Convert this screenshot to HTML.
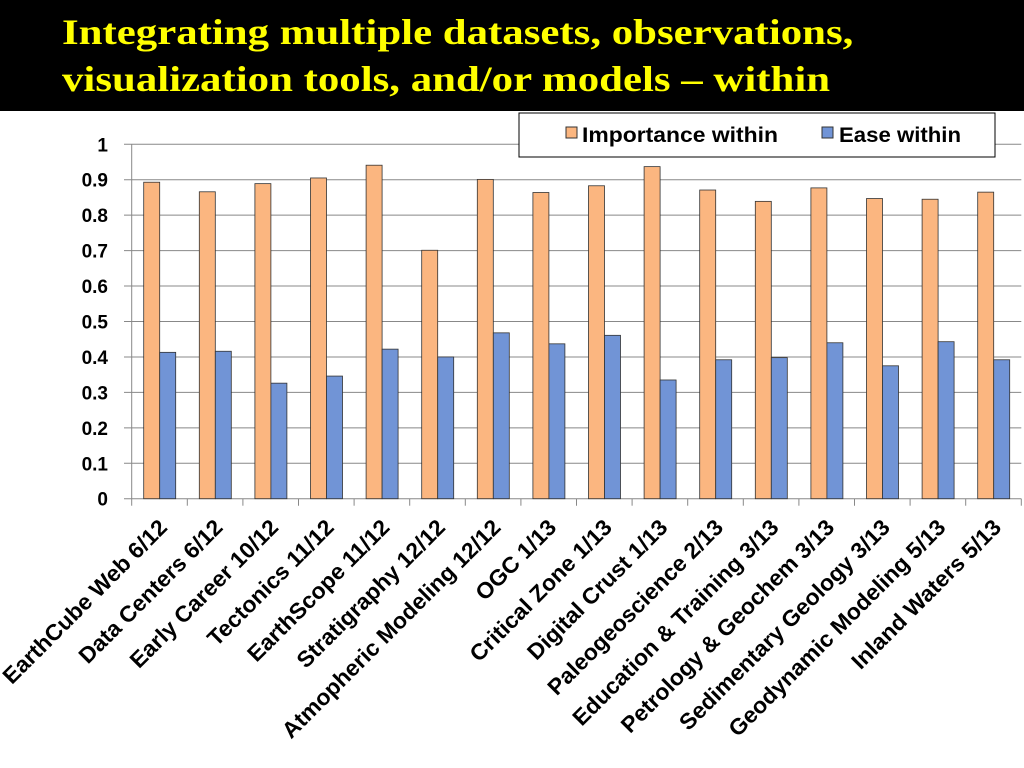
<!DOCTYPE html>
<html><head><meta charset="utf-8"><style>
body{margin:0;width:1024px;height:768px;overflow:hidden;background:#fff;}
#hdr{position:absolute;left:0;top:0;width:1024px;height:111px;background:#000;}
#title{position:absolute;left:62px;top:9px;color:#ffff00;font:bold 36px/47px "Liberation Serif",serif;margin:0;transform:scaleX(1.19);transform-origin:0 0;white-space:nowrap;}
svg{position:absolute;left:0;top:0;}
text{font-family:"Liberation Sans",sans-serif;font-weight:bold;}
</style></head><body>
<div id="hdr"></div>
<h1 id="title">Integrating multiple datasets, observations,<br>visualization tools, and/or models – within</h1>
<svg id="chart" width="1024" height="768"></svg>
<script>
const categories=["EarthCube Web 6/12","Data Centers 6/12","Early Career 10/12","Tectonics 11/12","EarthScope 11/12","Stratigraphy 12/12","Atmopheric Modeling 12/12","OGC 1/13","Critical Zone 1/13","Digital Crust 1/13","Paleogeoscience 2/13","Education & Training 3/13","Petrology & Geochem 3/13","Sedimentary Geology 3/13","Geodynamic Modeling 5/13","Inland Waters 5/13"];
const importance=[0.893,0.866,0.889,0.905,0.941,0.701,0.901,0.864,0.883,0.937,0.871,0.839,0.877,0.847,0.845,0.865];
const ease=[0.413,0.416,0.326,0.346,0.422,0.400,0.468,0.437,0.461,0.335,0.392,0.398,0.440,0.375,0.443,0.392];
const yTicks=[0,0.1,0.2,0.3,0.4,0.5,0.6,0.7,0.8,0.9,1];
const yTickLabels=["0","0.1","0.2","0.3","0.4","0.5","0.6","0.7","0.8","0.9","1"];
const NS="http://www.w3.org/2000/svg";
const svg=document.getElementById('chart');
const X0=131.7,Y0=498.7,Y1=144.3,CW=55.6;
const y=v=>Y0-(Y0-Y1)*v;
const x=i=>X0+i*CW;
function mk(t,a,p){const e=document.createElementNS(NS,t);for(const k in a)e.setAttribute(k,a[k]);(p||svg).appendChild(e);return e;}
yTicks.forEach((v,i)=>{
 const g=mk('line',{x1:124,x2:X0+16*CW,y1:y(v),y2:y(v),stroke:'#888','stroke-width':1});
 
 
 const t=mk('text',{x:108,y:y(v)+7,'text-anchor':'end','font-size':19,fill:'#000'});
 t.textContent=yTickLabels[i];
 
 
});
mk('line',{x1:X0,x2:X0,y1:Y1,y2:Y0,stroke:'#888'});
for(let i=0;i<=16;i++){mk('line',{x1:x(i),x2:x(i),y1:Y0,y2:Y0+7,stroke:'#888'});}
categories.forEach((c,i)=>{
 const b1=mk('rect',{x:x(i)+12,y:y(importance[i]),width:16,height:Y0-y(importance[i]),fill:'#fbb680',stroke:'#333','stroke-width':0.8});
 
 
 const b2=mk('rect',{x:x(i)+28,y:y(ease[i]),width:16,height:Y0-y(ease[i]),fill:'#7194d6',stroke:'#333','stroke-width':0.8});
 
 
 const cx=x(i)+CW/2+9,cy=Y0+30;
 const t=mk('text',{x:cx,y:cy,'text-anchor':'end','font-size':22.5,fill:'#000'});
 t.setAttribute('transform',`translate(${cx} ${cy}) rotate(-45) scale(1.02 1) translate(${-cx} ${-cy})`);
 t.textContent=c;
 
 
});
const lg=mk('g',{});


mk('rect',{x:519,y:113,width:476,height:44,fill:'#fff',stroke:'#000','stroke-width':1},lg);
mk('rect',{x:566,y:127,width:11,height:11,fill:'#fbb680',stroke:'#333'},lg);
const l1=mk('text',{x:582,y:142,'font-size':21,fill:'#000',textLength:196,lengthAdjust:'spacingAndGlyphs'},lg);l1.textContent='Importance within';
mk('rect',{x:822,y:127,width:11,height:11,fill:'#7194d6',stroke:'#333'},lg);
const l2=mk('text',{x:839,y:142,'font-size':21,fill:'#000',textLength:122,lengthAdjust:'spacingAndGlyphs'},lg);l2.textContent='Ease within';
</script>
</body></html>
